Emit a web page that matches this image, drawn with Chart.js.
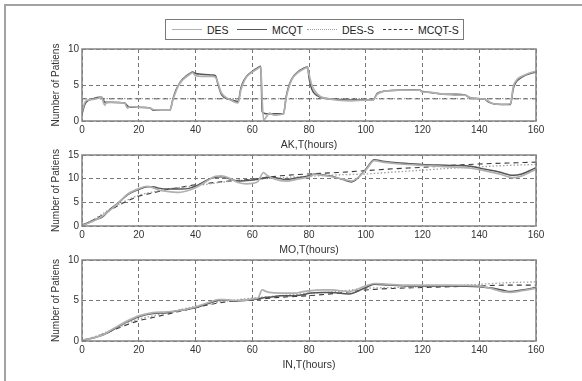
<!DOCTYPE html>
<html>
<head>
<meta charset="utf-8">
<script src="https://cdn.jsdelivr.net/npm/chart.js@4.4.1/dist/chart.umd.min.js"></script>
<style>
  body { margin: 0; background: #fff; font-family: "Liberation Sans", Arial, sans-serif; }
  #wrap { position: relative; width: 582px; height: 381px; overflow: hidden; }
  #frame { position: absolute; left: 4px; top: 4px; width: 700px; height: 500px;
           border-top: 2px solid #a3a3a3; border-left: 2px solid #a3a3a3; }
  canvas { position: absolute; left: 0; }
  #legend { position: absolute; left: 165px; top: 19px; width: 297px; height: 19px;
            border: 1px solid #7a7a7a; background: #fff; }
  .item { position: absolute; top: 0; height: 19px; display: flex; align-items: center;
          font-size: 10.5px; color: #222; white-space: nowrap; }
  .sample { width: 30px; height: 0; margin-right: 5px; }
</style>
</head>
<body>
<div id="wrap">
  <div id="frame"></div>
  <canvas id="chart-ak"></canvas>
  <canvas id="chart-mo"></canvas>
  <canvas id="chart-in"></canvas>
  <div id="legend"></div>
</div>
<script>
const seriesNames = ['DES', 'MCQT', 'DES-S', 'MCQT-S'];

// AK
const akTime = [
  0, 1, 2, 4, 6, 7, 7.5, 8, 8.5, 10,
  15, 16, 17, 20, 24, 25, 28, 31, 32, 33,
  34, 35, 36, 38, 39, 40, 42, 46, 47, 48,
  49, 50, 52, 55, 56, 57, 58, 60, 62, 63,
  63.5, 64, 65, 66, 68, 70, 71, 72, 73, 74,
  76, 78, 79.5, 80, 81, 82, 84, 87, 90, 95,
  100, 102.5, 104, 106, 108, 112, 116, 119, 120, 122,
  126, 128, 132, 135, 137, 140, 142, 143, 145, 148,
  151, 152, 153, 154, 156, 158, 160
];
const akDES = [
  1.3, 2.6, 2.9, 3.0, 3.2, 3.3, 2.6, 2.2, 2.5, 2.6,
  2.5, 1.8, 2.0, 1.9, 1.8, 1.6, 1.5, 1.5, 2.9, 4.0,
  4.9, 5.5, 5.9, 6.5, 6.7, 6.3, 6.2, 6.2, 6.1, 5.2,
  4.0, 3.5, 3.0, 2.5, 4.3, 5.4, 6.1, 6.8, 7.3, 7.5,
  3.0, 0.1, 0.6, 1.1, 0.8, 0.9, 1.0, 3.3, 4.8, 5.8,
  6.7, 7.2, 7.4, 6.5, 5.0, 4.2, 3.4, 3.1, 2.9, 2.8,
  2.9, 2.9, 3.7, 4.1, 4.2, 4.3, 4.3, 4.3, 4.0, 4.0,
  3.8, 3.7, 3.6, 3.6, 3.2, 3.1, 3.0, 2.8, 2.4, 2.3,
  2.4, 4.8, 5.6, 6.0, 6.4, 6.7, 6.9
];
const akMCQT = [
  1.0, 2.3, 2.8, 3.1, 3.3, 3.3, 3.0, 2.6, 2.6, 2.6,
  2.5, 2.1, 1.9, 1.9, 1.8, 1.5, 1.5, 1.5, 3.0, 4.2,
  5.0, 5.6, 6.0, 6.6, 6.8, 6.6, 6.5, 6.4, 6.3, 5.0,
  3.8, 3.3, 3.0, 2.7, 4.6, 5.6, 6.2, 6.9, 7.4, 7.6,
  1.3, 1.1, 1.0, 1.0, 1.0, 1.0, 1.0, 3.5, 5.0, 5.9,
  6.8, 7.3, 7.5, 6.0, 4.4, 3.8, 3.3, 3.1, 3.0, 2.9,
  2.9, 2.9, 3.8, 4.1, 4.2, 4.3, 4.35, 4.3, 4.1, 4.0,
  3.8, 3.7, 3.7, 3.6, 3.2, 3.1, 3.0, 2.7, 2.4, 2.3,
  2.3, 4.5, 5.4, 5.8, 6.3, 6.6, 6.8
];
const akTimeS = [0, 160];
const akDESS = [3.1, 3.1];
const akMCQTS = [3.1, 3.1];

// MO
const moTime = [
  0, 3, 5, 7, 10, 13, 16, 20, 23, 25,
  27, 30, 34, 38, 41, 44, 47, 49, 52, 55,
  58, 60, 62, 64, 65, 68, 72, 76, 80, 82,
  85, 88, 92, 95, 100, 103, 106, 112, 120, 130,
  137, 141, 147, 152, 155, 160
];
const moDES = [
  0.1, 0.8, 1.3, 2.0, 3.4, 5.0, 6.7, 7.9, 8.4, 8.1,
  7.6, 7.3, 7.1, 7.6, 8.4, 9.5, 10.5, 10.6, 10.1, 9.2,
  8.9, 9.0, 9.4, 11.3, 10.8, 9.9, 9.5, 9.9, 10.4, 10.9,
  10.7, 10.4, 9.9, 9.5, 11.8, 13.8, 13.5, 13.1, 12.8, 12.5,
  12.2, 11.8, 11.0, 10.2, 10.6, 12.0
];
const moMCQT = [
  0.2, 0.9, 1.4, 1.8, 3.6, 5.0, 6.6, 7.7, 8.3, 8.3,
  8.0, 7.8, 7.8, 8.0, 8.7, 9.7, 10.3, 10.4, 10.0, 9.5,
  9.6, 9.7, 9.9, 10.1, 10.3, 10.2, 9.8, 10.2, 10.6, 11.0,
  10.8, 10.5, 9.8, 9.3, 12.0, 14.0, 13.7, 13.3, 13.0, 12.8,
  12.6, 12.1, 11.4, 10.7, 11.0, 12.3
];
const moTimeS = [0, 5, 10, 15, 20, 25, 30, 35, 40, 50, 60, 70, 80, 90, 100, 110, 120, 130, 140, 150, 160];
const moDESS = [0, 1.7, 3.6, 5.2, 6.5, 7.2, 7.8, 8.2, 8.5, 9.3, 9.8, 10.2, 10.5, 10.8, 11.0, 11.4, 11.8, 12.2, 12.5, 12.8, 13.0];
const moMCQTS = [0, 1.6, 3.4, 5.0, 6.3, 7.0, 7.7, 8.2, 8.7, 9.4, 9.9, 10.6, 11.0, 11.3, 11.7, 12.1, 12.4, 12.8, 13.1, 13.3, 13.5];

// IN
const inTime = [
  0, 3, 7, 10, 15, 20, 25, 30, 35, 40,
  45, 48, 50, 54, 57, 60, 62, 63.5, 65, 66,
  70, 75, 78, 80, 85, 88, 94, 100, 103, 108,
  115, 120, 130, 140, 145, 148, 151, 155, 160
];
const inDES = [
  0.1, 0.3, 0.7, 1.3, 2.3, 3.1, 3.5, 3.6, 3.8, 4.2,
  4.8, 5.1, 5.1, 5.0, 5.0, 5.2, 5.3, 6.3, 6.1, 6.0,
  5.9, 5.9, 6.1, 6.2, 6.3, 6.3, 6.1, 6.8, 7.1, 7.0,
  6.9, 6.9, 6.9, 6.8, 6.4, 6.1, 6.0, 6.2, 6.5
];
const inMCQT = [
  0.1, 0.3, 0.7, 1.2, 2.2, 3.0, 3.4, 3.5, 3.8, 4.1,
  4.7, 5.0, 5.1, 4.9, 5.0, 5.1, 5.2, 5.3, 5.4, 5.4,
  5.6, 5.6, 5.7, 5.9, 6.0, 6.0, 5.8, 6.6, 7.0, 6.9,
  6.8, 6.8, 6.8, 6.7, 6.5, 6.3, 6.1, 6.3, 6.6
];
const inTimeS = [0, 5, 10, 15, 20, 25, 30, 35, 40, 45, 50, 55, 60, 70, 80, 90, 100, 110, 120, 130, 140, 150, 160];
const inDESS = [0, 0.6, 1.3, 2.0, 2.7, 3.1, 3.5, 3.9, 4.3, 4.6, 4.9, 5.1, 5.3, 5.6, 5.9, 6.1, 6.5, 6.6, 6.7, 6.8, 7.0, 7.2, 7.3];
const inMCQTS = [0, 0.5, 1.2, 1.9, 2.5, 2.9, 3.3, 3.7, 4.1, 4.5, 4.8, 5.0, 5.1, 5.4, 5.6, 5.9, 6.3, 6.5, 6.6, 6.7, 6.8, 6.9, 6.9];

const LINE_STYLES = [
  { color: '#b0b0b0', width: 1.7, dash: [], css: '1.5px solid #b0b0b0' },
  { color: '#555', width: 1.5, dash: [], css: '1.3px solid #555' },
  { color: '#a0a0a0', width: 1.3, dash: [1.5, 2], css: '1px dotted #a0a0a0' },
  { color: '#383838', width: 1.1, dash: [5, 4], css: '1px dashed #383838' }
];
const LEGEND_X = [6, 71, 141, 217];

Chart.defaults.font.family = '"Liberation Sans", Arial, sans-serif';

const boxPlugin = {
  id: 'box',
  afterDraw(chart) {
    const { ctx, chartArea: a } = chart;
    ctx.save();
    ctx.strokeStyle = '#858585';
    ctx.lineWidth = 1.5;
    ctx.strokeRect(a.left, a.top, a.right - a.left, a.bottom - a.top);
    ctx.restore();
  }
};

function makeChart(id, top, height, series, yMax, xTitle) {
  const canvas = document.getElementById(id);
  canvas.width = 582;
  canvas.height = height;
  canvas.style.top = top + 'px';

  const axisCommon = {
    grid: { color: '#777', lineWidth: 1, drawTicks: false },
    border: { display: false, dash: [4, 3] }
  };

  new Chart(canvas, {
    type: 'line',
    data: {
      datasets: series.map((s, i) => ({
        label: seriesNames[i],
        data: s.t.map((t, k) => ({ x: t, y: s.v[k] })),
        borderColor: LINE_STYLES[i].color,
        borderWidth: LINE_STYLES[i].width,
        borderDash: LINE_STYLES[i].dash,
        pointRadius: 0,
        fill: false,
        cubicInterpolationMode: 'monotone'
      }))
    },
    options: {
      responsive: false,
      animation: false,
      events: [],
      layout: { padding: { left: 50, right: 46, top: 8, bottom: 0 } },
      plugins: { legend: { display: false }, tooltip: { enabled: false } },
      scales: {
        x: {
          ...axisCommon,
          type: 'linear', min: 0, max: 160,
          ticks: { stepSize: 20, padding: 3, color: '#333', font: { size: 10 }, maxRotation: 0 },
          title: { display: true, text: xTitle, color: '#333', font: { size: 10.5 }, padding: 0 },
          afterFit(s) { s.height = 30; }
        },
        y: {
          ...axisCommon,
          min: 0, max: yMax,
          ticks: { stepSize: 5, padding: 3, color: '#333', font: { size: 10 } },
          title: { display: true, text: 'Number of Patiens', color: '#333', font: { size: 10 }, padding: 0 },
          afterFit(s) { s.width = 32; }
        }
      }
    },
    plugins: [boxPlugin]
  });
}

makeChart('chart-ak', 40, 111, [
  { t: akTime, v: akDES }, { t: akTime, v: akMCQT },
  { t: akTimeS, v: akDESS }, { t: akTimeS, v: akMCQTS }
], 10, 'AK,T(hours)');

makeChart('chart-mo', 146, 110, [
  { t: moTime, v: moDES }, { t: moTime, v: moMCQT },
  { t: moTimeS, v: moDESS }, { t: moTimeS, v: moMCQTS }
], 15, 'MO,T(hours)');

makeChart('chart-in', 251, 120, [
  { t: inTime, v: inDES }, { t: inTime, v: inMCQT },
  { t: inTimeS, v: inDESS }, { t: inTimeS, v: inMCQTS }
], 10, 'IN,T(hours)');

// legend
const legend = document.getElementById('legend');
seriesNames.forEach((name, i) => {
  const item = document.createElement('div');
  item.className = 'item';
  item.style.left = LEGEND_X[i] + 'px';
  const sample = document.createElement('span');
  sample.className = 'sample';
  sample.style.borderTop = LINE_STYLES[i].css;
  const label = document.createElement('span');
  label.textContent = name;
  item.appendChild(sample);
  item.appendChild(label);
  legend.appendChild(item);
});
</script>
</body>
</html>
